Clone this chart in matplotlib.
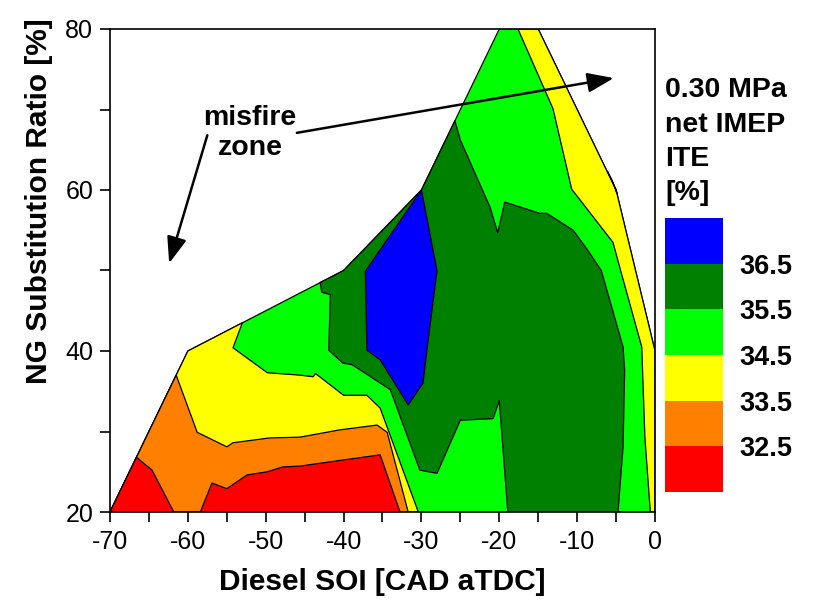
import numpy as np
import matplotlib
matplotlib.use("Agg")
import matplotlib.pyplot as plt
from matplotlib.colors import ListedColormap, BoundaryNorm
from matplotlib.cm import ScalarMappable

plt.rcParams['font.family'] = ['Liberation Sans', 'DejaVu Sans']
plt.rcParams['axes.unicode_minus'] = False

# ITE bands (lowest to highest) and their colours
band_edges = [31.5, 32.5, 33.5, 34.5, 35.5, 36.5, 37.5]
band_ticks = [32.5, 33.5, 34.5, 35.5, 36.5]
band_colors = ['#ff0000', '#ff8000', '#ffff00', '#00ff00', '#008000', '#0000ff']

# measured domain (diesel SOI vs NG substitution ratio)
domain_soi = [-70, -60, -40, -30, -20, -15, -5, 0, 0]
domain_ng = [20, 40, 50, 60, 80, 80, 60, 40, 20]

# ITE < 34.5 region, early injection side
yellow_l_soi = [-70, -60, -53.0, -54.2, -49.8, -45.6, -43.9, -43.6, -40.0, -37.0, -35.3, -30.4]
yellow_l_ng = [20, 40, 43.5, 40.4, 37.3, 37.0, 36.8, 37.2, 34.5, 34.5, 32.9, 20]

# ITE < 33.5 region
orange_l_soi = [-70, -61.5, -58.8, -55.0, -54.2, -49.5, -45.6, -40.5, -35.7, -34.4, -31.7]
orange_l_ng = [20, 37.0, 29.9, 28.1, 28.6, 29.2, 29.3, 30.2, 30.8, 29.9, 20]

# ITE < 32.5 regions
red_a_soi = [-70, -66.6, -64.6, -61.8]
red_a_ng = [20, 26.8, 25.2, 20]
red_b_soi = [-58.4, -56.9, -55.0, -52.4, -49.8, -47.8, -45.6, -40.5, -35.3, -32.75]
red_b_ng = [20, 23.6, 22.9, 24.6, 25.0, 25.6, 25.7, 26.4, 27.1, 20]

# ITE < 34.5 strip, late injection side
yellow_r_soi = [-17.6, -15, -5, 0, 0, -0.6, -1.3, -1.7, -4.5, -5.4, -10.7, -13.1]
yellow_r_ng = [80, 80, 60, 40, 20, 20, 29.3, 40.5, 50.3, 53.5, 60.1, 70.1]
orange_r_soi = [-6.1, -5.0, -4.9, -5.5]
orange_r_ng = [62.3, 60.0, 59.6, 61.2]

# ITE > 35.5 region
green_soi = [-43.0, -40, -30, -25.7, -25.0, -21.2, -20.2, -19.3, -14.8, -13.9, -10.5, -8.7,
             -6.9, -4.1, -3.9, -4.1, -4.75, -18.9, -20.0, -20.8, -25.0, -28.0, -30.2,
             -34.0, -38.9, -40.1, -41.9, -41.7, -42.8]
green_ng = [48.5, 50, 60, 68.6, 66.2, 57.9, 54.7, 58.5, 57.1, 57.1, 55.0, 52.6,
            50.0, 40.5, 37.6, 28.1, 20, 20, 33.8, 31.6, 31.4, 24.8, 25.2,
            35.2, 38.3, 38.5, 40.1, 47.0, 47.3]

# ITE > 36.5 region
blue_soi = [-37.2, -30, -28.0, -29.3, -29.8, -31.7, -35.3, -37.0]
blue_ng = [49.9, 60, 50.0, 40.1, 36.0, 33.3, 38.9, 40.1]

fig = plt.figure(figsize=(8.16, 6.15), dpi=100)
ax = fig.add_axes([110 / 816, 1 - 512 / 615, 545 / 816, 483 / 615])

edge = dict(edgecolor='black', linewidth=0.9, joinstyle='round')
ax.fill(domain_soi, domain_ng, facecolor=band_colors[3], **edge)
ax.fill(yellow_l_soi, yellow_l_ng, facecolor=band_colors[2], **edge)
ax.fill(orange_l_soi, orange_l_ng, facecolor=band_colors[1], **edge)
ax.fill(red_a_soi, red_a_ng, facecolor=band_colors[0], **edge)
ax.fill(red_b_soi, red_b_ng, facecolor=band_colors[0], **edge)
ax.fill(yellow_r_soi, yellow_r_ng, facecolor=band_colors[2], **edge)
ax.fill(orange_r_soi, orange_r_ng, facecolor=band_colors[1], **edge)
ax.fill(green_soi, green_ng, facecolor=band_colors[4], **edge)
ax.fill(blue_soi, blue_ng, facecolor=band_colors[5], **edge)

ax.set_xlim(-70, 0)
ax.set_ylim(20, 80)
ax.set_xticks(np.arange(-70, 1, 10))
ax.set_xticks(np.arange(-65, 0, 10), minor=True)
ax.set_yticks([20, 40, 60, 80])
ax.set_yticks([30, 50, 70], minor=True)
ax.tick_params(which='both', direction='out', length=7, width=1.2, labelsize=18)
ax.tick_params(axis='x', pad=6)
ax.tick_params(axis='y', pad=5)
for s in ax.spines.values():
    s.set_linewidth(1.2)

ax.set_xlabel('Diesel SOI [CAD aTDC]', fontsize=21.5, fontweight='bold')
ax.xaxis.set_label_coords(0.5, -0.115)
ax.set_ylabel('NG Substitution Ratio [%]', fontsize=21.5, fontweight='bold')
ax.yaxis.set_label_coords(-0.105, 0.644)

# misfire annotation
ax.text(-52, 67.1, 'misfire\nzone', ha='center', va='center', fontsize=20.5,
        fontweight='bold', linespacing=1.2, zorder=6)
arrow = dict(arrowstyle='-|>,head_length=0.8,head_width=0.3', color='black', lw=1.8,
             mutation_scale=20, shrinkA=0, shrinkB=0)
ax.annotate('', xy=(-5.3, 73.9), xytext=(-46.0, 67.1), arrowprops=arrow, zorder=6)
ax.annotate('', xy=(-62.4, 50.9), xytext=(-57.5, 66.8), arrowprops=arrow, zorder=6)

# colour scale
cax = fig.add_axes([665 / 816, 1 - 492 / 615, 58 / 816, 274 / 615])
sm = ScalarMappable(norm=BoundaryNorm(band_edges, len(band_colors)),
                    cmap=ListedColormap(band_colors))
cb = fig.colorbar(sm, cax=cax, ticks=band_ticks)
cb.outline.set_visible(False)
cb.minorticks_off()
cb.ax.tick_params(which='both', length=0, pad=12)
cb.ax.set_yticklabels([f'{t:.1f}' for t in band_ticks], fontsize=19.5, fontweight='bold')

title_lines = ['0.30 MPa', 'net IMEP', 'ITE', '[%]']
for i, line in enumerate(title_lines):
    fig.text(665 / 816, 1 - (97 + 34.5 * i) / 615, line, ha='left', va='baseline',
             fontsize=20.5, fontweight='bold')

fig.savefig('out.png', dpi=100)
